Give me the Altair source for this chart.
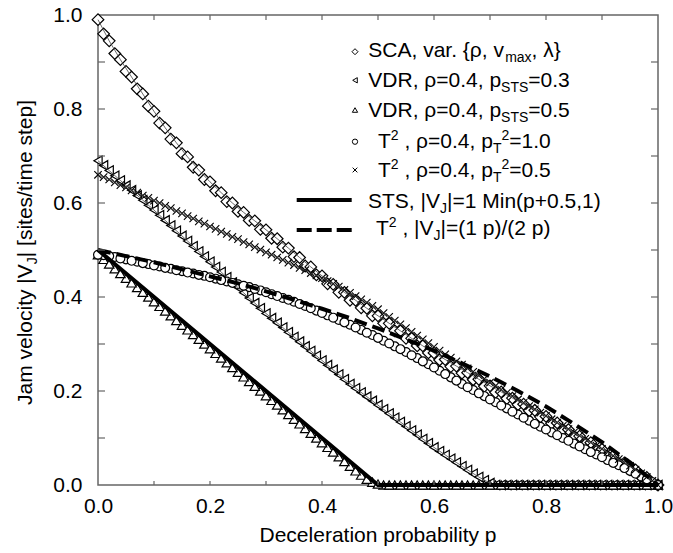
import altair as alt
import pandas as pd

# ---------------- data ----------------
P = [0.00, 0.02, 0.04, 0.06, 0.08, 0.10, 0.12, 0.14, 0.16, 0.18,
     0.20, 0.22, 0.24, 0.26, 0.28, 0.30, 0.32, 0.34, 0.36, 0.38,
     0.40, 0.42, 0.44, 0.46, 0.48, 0.50, 0.52, 0.54, 0.56, 0.58,
     0.60, 0.62, 0.64, 0.66, 0.68, 0.70, 0.72, 0.74, 0.76, 0.78,
     0.80, 0.82, 0.84, 0.86, 0.88, 0.90, 0.92, 0.94, 0.96, 0.98, 1.00]
P_ODD = [0.01, 0.03, 0.05, 0.07, 0.09, 0.11, 0.13, 0.15, 0.17, 0.19,
         0.21, 0.23, 0.25, 0.27, 0.29, 0.31, 0.33, 0.35, 0.37, 0.39,
         0.41, 0.43, 0.45, 0.47, 0.49, 0.51, 0.53, 0.55, 0.57, 0.59,
         0.61, 0.63, 0.65, 0.67, 0.69, 0.71, 0.73, 0.75, 0.77, 0.79,
         0.81, 0.83, 0.85, 0.87, 0.89, 0.91, 0.93, 0.95, 0.97, 0.99]

# SCA, var. {rho, vmax, lambda}  (two overlapping runs)
SCA_A = [0.990, 0.945, 0.905, 0.868, 0.832, 0.795, 0.760, 0.728, 0.698, 0.670,
         0.645, 0.622, 0.600, 0.580, 0.562, 0.543, 0.524, 0.504, 0.484, 0.464,
         0.445, 0.427, 0.410, 0.393, 0.376, 0.360, 0.344, 0.328, 0.312, 0.296,
         0.281, 0.267, 0.253, 0.239, 0.225, 0.211, 0.198, 0.185, 0.172, 0.159,
         0.146, 0.132, 0.118, 0.104, 0.090, 0.076, 0.062, 0.047, 0.032, 0.016, 0.000]
SCA_B = [0.960, 0.918, 0.880, 0.843, 0.806, 0.770, 0.736, 0.705, 0.676, 0.650,
         0.626, 0.603, 0.582, 0.563, 0.544, 0.525, 0.506, 0.486, 0.466, 0.447,
         0.428, 0.410, 0.393, 0.377, 0.360, 0.344, 0.328, 0.312, 0.296, 0.281,
         0.266, 0.252, 0.238, 0.224, 0.210, 0.197, 0.184, 0.171, 0.158, 0.145,
         0.131, 0.117, 0.103, 0.089, 0.075, 0.061, 0.046, 0.032, 0.017, 0.004]
# VDR, rho=0.4, pSTS=0.3
VDR_03 = [0.690, 0.669, 0.648, 0.627, 0.606, 0.585, 0.563, 0.541, 0.519, 0.497,
          0.475, 0.453, 0.431, 0.409, 0.387, 0.365, 0.345, 0.325, 0.305, 0.285,
          0.265, 0.245, 0.225, 0.206, 0.188, 0.170, 0.152, 0.134, 0.116, 0.098,
          0.080, 0.064, 0.048, 0.032, 0.017, 0.004, 0.000, 0.000, 0.000, 0.000,
          0.000, 0.000, 0.000, 0.000, 0.000, 0.000, 0.000, 0.000, 0.000, 0.000, 0.000]
VDR_03_ODD = [0.680, 0.658, 0.637, 0.616, 0.595, 0.574, 0.552, 0.530, 0.508, 0.486,
              0.464, 0.442, 0.420, 0.398, 0.376, 0.355, 0.335, 0.315, 0.295, 0.275,
              0.255, 0.235, 0.215, 0.197, 0.179, 0.161, 0.143, 0.125, 0.107, 0.089,
              0.072, 0.056, 0.040, 0.024, 0.010, 0.000, 0.000, 0.000, 0.000, 0.000,
              0.000, 0.000, 0.000, 0.000, 0.000, 0.000, 0.000, 0.000, 0.000, 0.000]
# VDR, rho=0.4, pSTS=0.5
VDR_05 = [0.490, 0.470, 0.450, 0.430, 0.410, 0.390, 0.370, 0.350, 0.330, 0.310,
          0.290, 0.270, 0.250, 0.230, 0.210, 0.190, 0.170, 0.150, 0.130, 0.110,
          0.090, 0.070, 0.050, 0.030, 0.012, 0.002, 0.000, 0.000, 0.000, 0.000,
          0.000, 0.000, 0.000, 0.000, 0.000, 0.000, 0.000, 0.000, 0.000, 0.000,
          0.000, 0.000, 0.000, 0.000, 0.000, 0.000, 0.000, 0.000, 0.000, 0.000, 0.000]
VDR_05_ODD = [0.480, 0.460, 0.440, 0.420, 0.400, 0.380, 0.360, 0.340, 0.320, 0.300,
              0.280, 0.260, 0.240, 0.220, 0.200, 0.180, 0.160, 0.140, 0.120, 0.100,
              0.080, 0.060, 0.040, 0.021, 0.006, 0.000, 0.000, 0.000, 0.000, 0.000,
              0.000, 0.000, 0.000, 0.000, 0.000, 0.000, 0.000, 0.000, 0.000, 0.000,
              0.000, 0.000, 0.000, 0.000, 0.000, 0.000, 0.000, 0.000, 0.000, 0.000]
# T^2, rho=0.4, pT2=1.0
T2_10 = [0.490, 0.487, 0.482, 0.477, 0.472, 0.467, 0.462, 0.457, 0.452, 0.447,
         0.442, 0.436, 0.430, 0.424, 0.417, 0.410, 0.402, 0.394, 0.385, 0.376,
         0.366, 0.356, 0.346, 0.335, 0.324, 0.313, 0.301, 0.289, 0.276, 0.263,
         0.250, 0.236, 0.222, 0.208, 0.195, 0.182, 0.169, 0.156, 0.143, 0.130,
         0.118, 0.106, 0.094, 0.082, 0.070, 0.059, 0.047, 0.036, 0.024, 0.012, 0.000]
T2_10_ODD = [0.489, 0.485, 0.480, 0.475, 0.470, 0.465, 0.460, 0.455, 0.450, 0.445,
             0.439, 0.433, 0.427, 0.421, 0.414, 0.406, 0.398, 0.390, 0.381, 0.371,
             0.361, 0.351, 0.341, 0.330, 0.319, 0.307, 0.295, 0.283, 0.270, 0.257,
             0.243, 0.229, 0.215, 0.202, 0.189, 0.176, 0.163, 0.150, 0.137, 0.124,
             0.112, 0.100, 0.088, 0.076, 0.065, 0.053, 0.042, 0.030, 0.018, 0.006]
# T^2, rho=0.4, pT2=0.5
T2_05 = [0.660, 0.650, 0.638, 0.627, 0.616, 0.605, 0.594, 0.583, 0.572, 0.561,
         0.550, 0.539, 0.528, 0.517, 0.506, 0.495, 0.484, 0.473, 0.462, 0.451,
         0.440, 0.428, 0.415, 0.402, 0.388, 0.374, 0.358, 0.342, 0.326, 0.310,
         0.294, 0.278, 0.263, 0.248, 0.233, 0.218, 0.203, 0.189, 0.175, 0.161,
         0.147, 0.133, 0.119, 0.105, 0.091, 0.077, 0.062, 0.048, 0.033, 0.017, 0.000]
T2_05_ODD = [0.655, 0.644, 0.633, 0.622, 0.611, 0.600, 0.589, 0.578, 0.567, 0.556,
             0.545, 0.534, 0.523, 0.512, 0.501, 0.490, 0.479, 0.468, 0.457, 0.446,
             0.434, 0.422, 0.409, 0.395, 0.381, 0.366, 0.350, 0.334, 0.318, 0.302,
             0.286, 0.271, 0.256, 0.241, 0.226, 0.211, 0.196, 0.182, 0.168, 0.154,
             0.140, 0.126, 0.112, 0.098, 0.084, 0.070, 0.055, 0.041, 0.025, 0.009]

# analytic curves
DASH_P = [0.00, 0.05, 0.10, 0.15, 0.20, 0.25, 0.30, 0.35, 0.40, 0.45, 0.50,
          0.55, 0.60, 0.65, 0.70, 0.75, 0.80, 0.85, 0.90, 0.95, 1.00]
DASH_V = [0.500, 0.487, 0.474, 0.459, 0.444, 0.429, 0.412, 0.394, 0.375, 0.355, 0.333,
          0.310, 0.286, 0.259, 0.231, 0.200, 0.167, 0.130, 0.091, 0.048, 0.000]
STS_P = [0.0, 0.5, 1.0]
STS_V = [0.5, 0.0, 0.0]

LABELS = [0.0, 0.2, 0.4, 0.6, 0.8, 1.0]
MINOR = [0.1, 0.2, 0.3, 0.4, 0.5, 0.6, 0.7, 0.8, 0.9]

# ---------------- layout helpers ----------------
FONT = "Liberation Sans"
FS = 21
FSS = 14
W, H = 560, 470
OX, OY = 98, 15  # page offset of plot area
FRAME = "#666666"

CW = {' ': 278, '(': 333, ')': 333, '+': 584, ',': 278, '-': 333, '.': 278, '/': 278,
      '=': 584, 'A': 667, 'C': 722, 'D': 722, 'J': 500, 'M': 833, 'R': 722, 'S': 667,
      'T': 611, 'V': 667, '[': 278, ']': 278, 'a': 556, 'b': 556, 'c': 500, 'e': 556,
      'i': 222, 'l': 222, 'm': 833, 'n': 556, 'o': 556, 'p': 556, 'r': 333, 's': 500,
      't': 278, 'v': 500, 'x': 500, 'y': 500, '{': 334, '}': 334, '|': 260,
      'ρ': 570, 'λ': 500}
for d in '0123456789':
    CW[d] = 556


def tw(s, size):
    return sum(CW.get(c, 556) for c in s) * size / 1000.0


ONE = pd.DataFrame({'k': [0]})
XS = alt.Scale(domain=[0, 1], nice=False, zero=False)
YS = alt.Scale(domain=[0, 1], nice=False, zero=False)
XAX = alt.Axis(values=LABELS, format='.1f', title=None, domain=False, ticks=False,
               grid=False, labelFont=FONT, labelFontSize=FS, labelColor='black',
               labelPadding=10, labelFlush=False, labelOverlap=False)
YAX = alt.Axis(values=LABELS, format='.1f', title=None, domain=False, ticks=False,
               grid=False, labelFont=FONT, labelFontSize=FS, labelColor='black',
               labelPadding=16, labelFlush=False, labelOverlap=False)


def X():
    return alt.X('p:Q', scale=XS, axis=XAX)


def Y():
    return alt.Y('v:Q', scale=YS, axis=YAX)


def series(p, v):
    return pd.DataFrame({'p': p, 'v': v})


def txt(xp, yp, s, size=FS, **kw):
    # SVG drops leading blanks, so advance the anchor instead
    stripped = s.lstrip(' ')
    lead = len(s) - len(stripped)
    props = dict(text=stripped, font=FONT, fontSize=size, color='black',
                 align='left', baseline='alphabetic')
    props.update(kw)
    return alt.Chart(ONE).mark_text(**props).encode(
        x=alt.value(xp + lead * tw(' ', size) - OX), y=alt.value(yp - OY))


layers = []

# ---------------- markers ----------------
mk = dict(fill='white', stroke='black', strokeWidth=1.2, opacity=1, filled=True)
XSHAPE = "M -1 -1 L 1 1 M -1 1 L 1 -1"


def pts(p, v, shape, size):
    return alt.Chart(series(p, v)).mark_point(shape=shape, size=size, **mk).encode(x=X(), y=Y())


def crosses(p, v):
    return alt.Chart(series(p, v)).mark_point(shape=XSHAPE, size=55, filled=False, stroke='black',
                                              strokeWidth=1.1, opacity=1).encode(x=X(), y=Y())


layers += [
    pts(P_ODD, SCA_B, 'diamond', 135),
    pts(P, SCA_A, 'diamond', 135),
    pts(P_ODD, VDR_03_ODD, 'triangle-left', 90),
    pts(P, VDR_03, 'triangle-left', 90),
    pts(P_ODD, VDR_05_ODD, 'triangle-up', 90),
    pts(P, VDR_05, 'triangle-up', 90),
    pts(P_ODD, T2_10_ODD, 'circle', 78),
    pts(P, T2_10, 'circle', 78),
    crosses(P_ODD, T2_05_ODD),
    crosses(P, T2_05),
]

# thin connecting lines
for vals in (SCA_A, VDR_03, T2_05):
    layers.append(alt.Chart(series(P, vals)).mark_line(color='#444444', strokeWidth=0.8).encode(x=X(), y=Y()))

# analytic curves
layers.append(alt.Chart(series(STS_P, STS_V)).mark_line(color='black', strokeWidth=4).encode(x=X(), y=Y()))
layers.append(alt.Chart(series(DASH_P, DASH_V)).mark_line(color='black', strokeWidth=4,
                                                          strokeDash=[13, 6]).encode(x=X(), y=Y()))

# ---------------- inward ticks ----------------
tick_x = pd.DataFrame({'p': MINOR})
tick_y = pd.DataFrame({'v': MINOR})
rk = dict(color=FRAME, strokeWidth=1.2)
layers.append(alt.Chart(tick_x).mark_rule(**rk).encode(x=X(), y=alt.value(H - 4), y2=alt.value(H)))
layers.append(alt.Chart(tick_x).mark_rule(**rk).encode(x=X(), y=alt.value(0), y2=alt.value(5)))
layers.append(alt.Chart(tick_y).mark_rule(**rk).encode(y=Y(), x=alt.value(0), x2=alt.value(7)))
layers.append(alt.Chart(tick_y).mark_rule(**rk).encode(y=Y(), x=alt.value(W - 7), x2=alt.value(W)))

# ---------------- legend ----------------
SUB, SUP = 5, -8
rows = [
    (368.3, 57.3, [("SCA, var. {ρ, v", 0), ("max", SUB), (", λ}", 0)]),
    (368.3, 86.7, [("VDR, ρ=0.4, p", 0), ("STS", SUB), ("=0.3", 0)]),
    (368.3, 116.7, [("VDR, ρ=0.4, p", 0), ("STS", SUB), ("=0.5", 0)]),
    (378.0, 147.7, [("T", 0), ("2", SUP), (" , ρ=0.4, p", 0), ("T", SUB), ("2", SUP), ("=1.0", 0)]),
    (378.0, 176.7, [("T", 0), ("2", SUP), (" , ρ=0.4, p", 0), ("T", SUB), ("2", SUP), ("=0.5", 0)]),
    (368.0, 208.0, [("STS, |V", 0), ("J", SUB), ("|=1 Min(p+0.5,1)", 0)]),
    (376.0, 235.0, [("T", 0), ("2", SUP), (" , |V", 0), ("J", SUB), ("|=(1 p)/(2 p)", 0)]),
]
for x0, base, segs in rows:
    cx = x0
    for s, off in segs:
        size = FS if off == 0 else FSS
        layers.append(txt(cx, base + off, s, size))
        cx += tw(s, size)

LEG_SYM_X = 355
lsym = dict(fill='white', stroke='black', strokeWidth=1, opacity=1, filled=True)
layers.append(alt.Chart(ONE).mark_point(shape='diamond', size=36, **lsym).encode(
    x=alt.value(LEG_SYM_X - OX), y=alt.value(51.7 - OY)))
layers.append(alt.Chart(ONE).mark_point(shape='triangle-left', size=28, **lsym).encode(
    x=alt.value(LEG_SYM_X - OX), y=alt.value(80.3 - OY)))
layers.append(alt.Chart(ONE).mark_point(shape='triangle-up', size=28, **lsym).encode(
    x=alt.value(LEG_SYM_X - OX), y=alt.value(110 - OY)))
layers.append(alt.Chart(ONE).mark_point(shape='circle', size=28, **lsym).encode(
    x=alt.value(LEG_SYM_X - OX), y=alt.value(141.7 - OY)))
layers.append(alt.Chart(ONE).mark_point(shape=XSHAPE, size=22, filled=False, stroke='black',
                                        strokeWidth=1, opacity=1).encode(
    x=alt.value(LEG_SYM_X - OX), y=alt.value(170 - OY)))
layers.append(alt.Chart(ONE).mark_rule(color='black', strokeWidth=4).encode(
    x=alt.value(296.7 - OX), x2=alt.value(351.7 - OX), y=alt.value(200 - OY)))
layers.append(alt.Chart(ONE).mark_rule(color='black', strokeWidth=4, strokeDash=[15, 5]).encode(
    x=alt.value(296.7 - OX), x2=alt.value(351.7 - OX), y=alt.value(230 - OY)))

# ---------------- axis titles ----------------
layers.append(txt(OX + W / 2, 542, "Deceleration probability p", FS, align='center'))

p1 = "Jam velocity |V"
p3 = "| [sites/time step]"
total = tw(p1, FS) + tw("J", FSS) + tw(p3, FS)
ycen = 252.5
ystart = ycen + total / 2
xb = 32
layers.append(txt(xb, ystart, p1, FS, angle=270))
yj = ystart - tw(p1, FS)
layers.append(txt(xb + 5, yj, "J", FSS, angle=270))
layers.append(txt(xb, yj - tw("J", FSS), p3, FS, angle=270))

chart = alt.layer(*layers).properties(
    width=W, height=H,
    autosize=alt.AutoSizeParams(type='none'),
    padding={'left': OX, 'top': OY, 'right': 673 - OX - W, 'bottom': 553 - OY - H},
    background='white',
).configure_view(stroke=FRAME, strokeWidth=1.5)

chart.save("out.html", embed_options={"renderer": "svg", "actions": False})
